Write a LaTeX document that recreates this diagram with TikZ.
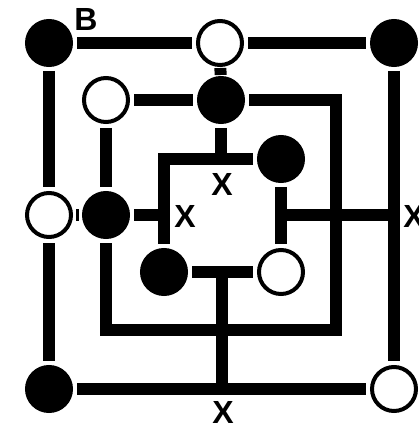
\documentclass[tikz,border=0pt]{standalone}
\usepackage{fontspec}
\setmainfont{Liberation Sans}
\begin{document}
\begin{tikzpicture}[x=1pt,y=-1pt,
  blackpt/.style={circle,draw=black,fill=black,line width=4pt,minimum size=44pt,inner sep=0pt,outer sep=6pt},
  whitept/.style={circle,draw=black,fill=white,line width=4pt,minimum size=44pt,inner sep=0pt,outer sep=6pt},
  conn/.style={line width=12pt,line cap=butt,line join=miter,draw=black},
  lbl/.style={inner sep=0pt,font=\fontsize{32}{32}\selectfont\bfseries}]
\useasboundingbox[fill=white] (0,0) rectangle (418,427);
% outer ring
\node[blackpt] (o1) at (49,43) {};
\node[whitept] (o2) at (220,43) {};
\node[blackpt] (o3) at (394,43) {};
\node[whitept] (o4) at (49,215) {};
\node[blackpt] (o6) at (49,389) {};
\node[whitept] (o8) at (394,389) {};
\coordinate (oR) at (394,215);
\coordinate (oB) at (222,389);
% middle ring
\node[whitept] (m1) at (106,100) {};
\node[blackpt] (m2) at (221,100) {};
\node[blackpt] (m4) at (106,215) {};
\coordinate (mTR) at (336,100);
\coordinate (mBR) at (336,330);
\coordinate (mBL) at (106,330);
% inner ring
\node[blackpt] (i3) at (281,159) {};
\node[whitept] (i5) at (281,272) {};
\node[blackpt] (i7) at (164,272) {};
\coordinate (iTL) at (164,159);
\coordinate (iT) at (221,159);
\coordinate (iL) at (164,215);
\coordinate (iR) at (281,215);
\coordinate (iB) at (222,272);
% outer connectors
\draw[conn] (o1) -- (o2);
\draw[conn] (o2) -- (o3);
\draw[conn] (o1) -- (o4);
\draw[conn] (o4) -- (o6);
\draw[conn] (o6) -- (o8);
\draw[conn] (o3) -- (o8);
% middle connectors
\draw[conn] (m1) -- (m2);
\draw[conn] (m1) -- (m4);
\draw[conn] (m2) -- (mTR) -- (mBR) -- (mBL) -- (m4);
% inner connectors
\draw[conn] (i3) -- (iTL) -- (i7);
\draw[conn] (i3) -- (i5);
\draw[conn] (i7) -- (i5);
% cross connectors
\draw[conn,shorten <=-3pt,shorten >=-3pt] (o2) -- (m2);
\draw[conn,shorten <=-1pt,shorten >=-1pt] (o4) -- (m4);
\draw[conn] (m2) -- (iT);
\draw[conn] (m4) -- (iL);
\draw[conn] (iR) -- (oR);
\draw[conn] (iB) -- (oB);
% labels
\node[lbl] (lB) at (86,19) {B};
\node[lbl] (x1) at (222,184) {X};
\node[lbl] (x2) at (185,216) {X};
\node[lbl] (x3) at (414,216) {X};
\node[lbl] (x4) at (223,412) {X};
\end{tikzpicture}
\end{document}
